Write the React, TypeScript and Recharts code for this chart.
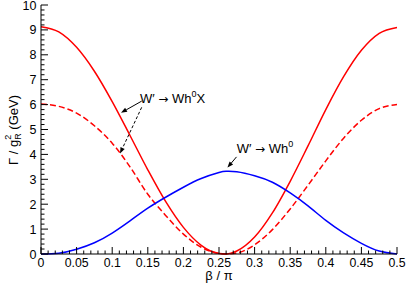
import React from 'react';
import { LineChart, Line, XAxis, YAxis, ReferenceLine, ReferenceDot } from 'recharts';

// beta / pi
const betaOverPi = [0, 0.025, 0.05, 0.075, 0.1, 0.125, 0.15, 0.175, 0.2, 0.225, 0.25, 0.26, 0.275, 0.3, 0.325, 0.35, 0.375, 0.4, 0.425, 0.45, 0.475, 0.5];
// W' -> W h0 X (solid red)
const wh0xSolid = [9.13, 8.92, 8.3, 7.34, 6.12, 4.76, 3.38, 2.11, 1.07, 0.35, 0.02, 0, 0.12, 0.68, 1.65, 2.92, 4.34, 5.8, 7.12, 8.18, 8.86, 9.1];
// W' -> W h0 X (dashed red)
const wh0xDashed = [6.02, 5.93, 5.66, 5.15, 4.45, 3.5, 2.4, 1.55, 0.8, 0.27, 0.03, 0, 0.04, 0.37, 0.98, 1.81, 2.76, 3.74, 4.65, 5.37, 5.84, 6.0];
// W' -> W h0 (blue)
const wh0 = [0, 0.03, 0.19, 0.45, 0.84, 1.33, 1.84, 2.28, 2.68, 3.03, 3.27, 3.32, 3.3, 3.14, 2.88, 2.45, 1.93, 1.35, 0.85, 0.43, 0.12, 0];

const xMajorTicks = [0, 0.05, 0.1, 0.15, 0.2, 0.25, 0.3, 0.35, 0.4, 0.45, 0.5];
const xTickLabels = ['0', '0.05', '0.1', '0.15', '0.2', '0.25', '0.3', '0.35', '0.4', '0.45', '0.5'];
const yMajorTicks = [0, 1, 2, 3, 4, 5, 6, 7, 8, 9, 10];
const yTickLabels = ['0', '1', '2', '3', '4', '5', '6', '7', '8', '9', '10'];
const xAllTicks = Array.from({ length: 51 }, (_, i) => i / 100);
const yAllTicks = Array.from({ length: 51 }, (_, i) => i / 5);

const data = betaOverPi.map((b, i) => ({
  b,
  solid: wh0xSolid[i],
  dashed: wh0xDashed[i],
  blue: wh0[i],
}));

const FONT = '"Liberation Sans", Arial, Helvetica, sans-serif';
const ARROW_FONT = '"DejaVu Sans", sans-serif';
const MAJOR = 7;
const MINOR = 3.5;

const xLabel = (v: number) => {
  const i = xMajorTicks.findIndex((t) => Math.abs(t - v) < 1e-6);
  return i >= 0 ? xTickLabels[i] : null;
};
const yLabel = (v: number) => {
  const i = yMajorTicks.findIndex((t) => Math.abs(t - v) < 1e-6);
  return i >= 0 ? yTickLabels[i] : null;
};

const BottomTick = (p: any) => {
  const lab = xLabel(p.payload.value);
  return (
    <g>
      <line x1={p.x} y1={p.y} x2={p.x} y2={p.y - (lab ? MAJOR : MINOR)} stroke="#000" strokeWidth={1} />
      {lab && (
        <text x={p.x} y={p.y + 12.5} textAnchor="middle" fontSize={12.3} fontFamily={FONT} fill="#000">
          {lab}
        </text>
      )}
    </g>
  );
};
const TopTick = (p: any) => {
  const lab = xLabel(p.payload.value);
  return <line x1={p.x} y1={p.y} x2={p.x} y2={p.y + (lab ? MAJOR : MINOR)} stroke="#000" strokeWidth={1} />;
};
const LeftTick = (p: any) => {
  const lab = yLabel(p.payload.value);
  return (
    <g>
      <line x1={p.x} y1={p.y} x2={p.x + (lab ? MAJOR : MINOR)} y2={p.y} stroke="#000" strokeWidth={1} />
      {lab && (
        <text x={p.x - 4.5} y={p.y + 4.5} textAnchor="end" fontSize={12.5} fontFamily={FONT} fill="#000">
          {lab}
        </text>
      )}
    </g>
  );
};
const RightTick = (p: any) => {
  const lab = yLabel(p.payload.value);
  return <line x1={p.x} y1={p.y} x2={p.x - (lab ? MAJOR : MINOR)} y2={p.y} stroke="#000" strokeWidth={1} />;
};

const YTitle = () => (
  <text transform="translate(17.5,130) rotate(-90)" textAnchor="middle" fontSize={13} fontFamily={FONT} fill="#000">
    <tspan>Γ / g</tspan>
    <tspan dy={3.5} fontSize={9}>R</tspan>
    <tspan dx={-6.5} dy={-10} fontSize={9}>2</tspan>
    <tspan dx={1.5} dy={6.5}> (GeV)</tspan>
  </text>
);
const XTitle = () => (
  <text x={219} y={280} textAnchor="middle" fontSize={13} fontFamily={FONT} fill="#000">
    β / π
  </text>
);

const Arrow = (dashed: boolean) => (p: any) => {
  const { x1, y1, x2, y2 } = p;
  const dx = x2 - x1;
  const dy = y2 - y1;
  const len = Math.sqrt(dx * dx + dy * dy) || 1;
  const ux = dx / len;
  const uy = dy / len;
  const L = 6;
  const W = 2.3;
  const bx = x2 - ux * L;
  const by = y2 - uy * L;
  const pts = `${x2},${y2} ${bx - uy * W},${by + ux * W} ${bx + uy * W},${by - ux * W}`;
  return (
    <g>
      <line x1={x1} y1={y1} x2={bx} y2={by} stroke="#000" strokeWidth={1} strokeDasharray={dashed ? '3 2' : undefined} />
      <polygon points={pts} fill="#000" />
    </g>
  );
};

const LabelText = (sup: string, tail: string) => (p: any) => (
  <text x={p.cx} y={p.cy} fontSize={13} fontFamily={FONT} fill="#000">
    <tspan>W′ </tspan>
    <tspan fontFamily={ARROW_FONT} fontSize={12}>→</tspan>
    <tspan> Wh</tspan>
    <tspan dy={-5.5} fontSize={9}>{sup}</tspan>
    {tail ? <tspan dy={5.5}>{tail}</tspan> : null}
  </text>
);

export default function App() {
  return (
    <div style={{ position: 'absolute', left: 0, top: 0, width: 406, height: 284, background: '#fff' }}>
      <LineChart width={406} height={284} data={data} margin={{ top: 5, right: 9, bottom: 0, left: 0 }}>
        <XAxis
          dataKey="b"
          type="number"
          domain={[0, 0.5]}
          ticks={xAllTicks}
          interval={0}
          tickSize={0}
          tickMargin={0}
          tickLine={false}
          tick={BottomTick}
          height={30}
          axisLine={{ stroke: '#000', strokeWidth: 1 }}
          label={<XTitle />}
        />
        <XAxis
          xAxisId="top"
          orientation="top"
          dataKey="b"
          type="number"
          domain={[0, 0.5]}
          ticks={xAllTicks}
          interval={0}
          tickSize={0}
          tickMargin={0}
          tickLine={false}
          tick={TopTick}
          height={0}
          axisLine={{ stroke: '#000', strokeWidth: 1 }}
        />
        <YAxis
          type="number"
          domain={[0, 10]}
          ticks={yAllTicks}
          interval={0}
          tickSize={0}
          tickMargin={0}
          tickLine={false}
          tick={LeftTick}
          width={41}
          axisLine={{ stroke: '#000', strokeWidth: 1 }}
          label={<YTitle />}
        />
        <YAxis
          yAxisId="right"
          orientation="right"
          type="number"
          domain={[0, 10]}
          ticks={yAllTicks}
          interval={0}
          tickSize={0}
          tickMargin={0}
          tickLine={false}
          tick={RightTick}
          width={0}
          axisLine={{ stroke: '#000', strokeWidth: 1 }}
        />
        <Line dataKey="dashed" type="monotone" stroke="#ff0000" strokeWidth={1.5} strokeDasharray="6 3" dot={false} isAnimationActive={false} />
        <Line dataKey="solid" type="monotone" stroke="#ff0000" strokeWidth={1.5} dot={false} isAnimationActive={false} />
        <Line dataKey="blue" type="natural" stroke="#0000ff" strokeWidth={1.5} dot={false} isAnimationActive={false} />
        <ReferenceLine segment={[{ x: 0.1414, y: 6.14 }, { x: 0.1124, y: 5.67 }]} shape={Arrow(false)} />
        <ReferenceLine segment={[{ x: 0.1414, y: 5.89 }, { x: 0.111, y: 4.04 }]} shape={Arrow(true)} />
        <ReferenceLine segment={[{ x: 0.2746, y: 3.9 }, { x: 0.2619, y: 3.47 }]} shape={Arrow(false)} />
        <ReferenceDot x={0.139} y={6.08} r={0} shape={LabelText('0', 'X')} />
        <ReferenceDot x={0.2749} y={4.07} r={0} shape={LabelText('0', '')} />
      </LineChart>
    </div>
  );
}
